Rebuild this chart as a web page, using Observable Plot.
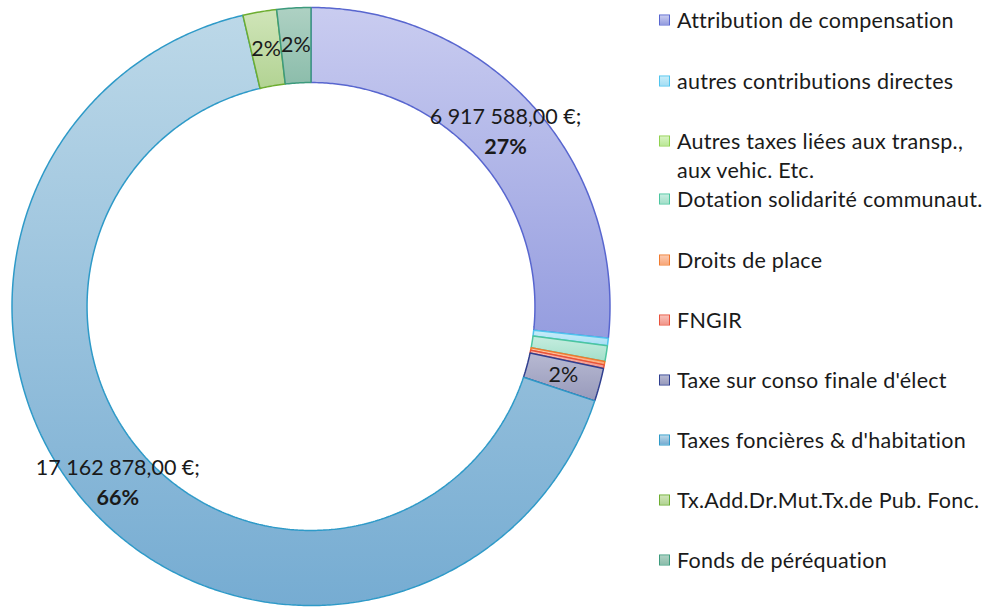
<!DOCTYPE html>
<html><head><meta charset="utf-8">
<script src="https://cdn.jsdelivr.net/npm/d3@7"></script>
<script src="https://cdn.jsdelivr.net/npm/@observablehq/plot@0.6"></script>
<style>
html,body{margin:0;padding:0;background:#fff;}
#chart{position:relative;width:989px;height:607px;font-family:Lato,"Open Sans",sans-serif;color:#1a1a1a;overflow:hidden}
#chart svg{position:absolute;left:0;top:0;}
.leg{position:absolute;left:677px;font-size:21.5px;letter-spacing:0.25px;line-height:29px;white-space:nowrap;transform:translateY(-50%);}
.sw{position:absolute;left:659px;width:9px;height:9px;border:1.5px solid;transform:translateY(-50%);}
</style></head>
<body><div id="chart"></div>
<script>
// ---- data ----
const categories = [
  "Attribution de compensation",
  "autres contributions directes",
  "Autres taxes liées aux transp., aux vehic. Etc.",
  "Dotation solidarité communaut.",
  "Droits de place",
  "FNGIR",
  "Taxe sur conso finale d'élect",
  "Taxes foncières & d'habitation",
  "Tx.Add.Dr.Mut.Tx.de Pub. Fonc.",
  "Fonds de péréquation"
];
const legendText = [
  ["Attribution de compensation"],
  ["autres contributions directes"],
  ["Autres taxes liées aux transp.,", "aux vehic. Etc."],
  ["Dotation solidarité communaut."],
  ["Droits de place"],
  ["FNGIR"],
  ["Taxe sur conso finale d'élect"],
  ["Taxes foncières & d'habitation"],
  ["Tx.Add.Dr.Mut.Tx.de Pub. Fonc."],
  ["Fonds de péréquation"]
];
const values = [6917588, 104000, 0, 220000, 47000, 52000, 462000, 17162878, 472000, 475000];
const labelKind = ["value", "none", "none", "none", "none", "none", "pct", "value", "pct", "pct"];
const fillTop    = ["#c9ccf0", "#c8edf9", "#d8f3c2", "#c6ede0", "#fccab0", "#f9c2ba", "#b7b9d2", "#bcd8e8", "#d0e5b9", "#aed1c3"];
const fillBottom = ["#959ddf", "#a5def4", "#bbe897", "#a3dfc9", "#f8a77a", "#f1968a", "#989abb", "#76acd2", "#b2d393", "#8cbdab"];
const strokes    = ["#5866cf", "#4fc4ee", "#8fd14f", "#4cc59f", "#f07a2e", "#e8523c", "#2f3f8f", "#2e9ac8", "#6dad30", "#3d9a7d"];
const legendY = [20, 81, 141, 199, 260, 320, 380, 440, 500, 560];

// ---- derived ----
const innerRatio = 0.749;
const total = d3.sum(values);
const arcs = d3.pie().sort(null).value(d => d)(values);
const loc = d3.formatLocale({decimal: ",", thousands: "\u00a0", grouping: [3], currency: ["", "\u202f€"]});
const fmt = loc.format("$,.2f");

function ringPoints(a0, a1, r0, r1) {
  const pts = [];
  const n = Math.max(2, Math.ceil((a1 - a0) / (Math.PI / 360)));
  for (let i = 0; i <= n; i++) { const a = a0 + (a1 - a0) * i / n; pts.push([r1 * Math.sin(a), r1 * Math.cos(a)]); }
  for (let i = n; i >= 0; i--) { const a = a0 + (a1 - a0) * i / n; pts.push([r0 * Math.sin(a), r0 * Math.cos(a)]); }
  return pts;
}

const sliceMarks = [];
arcs.forEach((a, i) => {
  if (a.value <= 0) return;
  sliceMarks.push(Plot.line(ringPoints(a.startAngle, a.endAngle, innerRatio, 1), {
    x: d => d[0], y: d => d[1], curve: "linear-closed",
    fill: `url(#grad${i})`, stroke: strokes[i], strokeWidth: 1.5, strokeLinejoin: "miter"
  }));
});

const rMid = (1 + innerRatio) / 2;
const labels = [];
arcs.forEach((a, i) => {
  const m = (a.startAngle + a.endAngle) / 2;
  const x = rMid * Math.sin(m), y = rMid * Math.cos(m);
  const pct = Math.round(a.value / total * 100) + "%";
  if (labelKind[i] === "pct") labels.push({x, y, text: pct, dy: 0, bold: false});
  if (labelKind[i] === "value") {
    labels.push({x, y, text: fmt(a.value) + ";", dy: -15, bold: false});
    labels.push({x, y, text: pct, dy: 15, bold: true});
  }
});

const textOpts = {fontSize: 21.5, fontFamily: "Lato, 'Open Sans', sans-serif", fill: "#1a1a1a"};
const plot = Plot.plot({
  width: 620, height: 607, margin: 0,
  x: {domain: [-1, 1], range: [11.5, 609.5], axis: null},
  y: {domain: [-1, 1], range: [605, 7], axis: null},
  marks: [
    ...sliceMarks,
    Plot.text(labels.filter(d => !d.bold && d.dy === 0), {x: "x", y: "y", text: "text", ...textOpts}),
    Plot.text(labels.filter(d => !d.bold && d.dy !== 0), {x: "x", y: "y", text: "text", dy: -15, ...textOpts}),
    Plot.text(labels.filter(d => d.bold), {x: "x", y: "y", text: "text", dy: 15, fontWeight: "bold", ...textOpts})
  ]
});

// gradient definitions
const ns = "http://www.w3.org/2000/svg";
const defs = document.createElementNS(ns, "defs");
values.forEach((v, i) => {
  const g = document.createElementNS(ns, "linearGradient");
  g.setAttribute("id", "grad" + i);
  g.setAttribute("x1", "0"); g.setAttribute("y1", "0"); g.setAttribute("x2", "0"); g.setAttribute("y2", "1");
  [[0, fillTop[i]], [1, fillBottom[i]]].forEach(([o, c]) => {
    const s = document.createElementNS(ns, "stop");
    s.setAttribute("offset", o); s.setAttribute("stop-color", c);
    g.appendChild(s);
  });
  defs.appendChild(g);
});
plot.insertBefore(defs, plot.firstChild);

const chart = document.getElementById("chart");
chart.appendChild(plot);

// legend
categories.forEach((c, i) => {
  const sw = document.createElement("div");
  sw.className = "sw";
  sw.style.top = legendY[i] + "px";
  sw.style.background = `linear-gradient(${fillTop[i]}, ${fillBottom[i]})`;
  sw.style.borderColor = strokes[i];
  chart.appendChild(sw);
  legendText[i].forEach((line, j) => {
    const t = document.createElement("div");
    t.className = "leg";
    t.style.top = (legendY[i] + j * 29) + "px";
    t.textContent = line;
    chart.appendChild(t);
  });
});
</script></body></html>
